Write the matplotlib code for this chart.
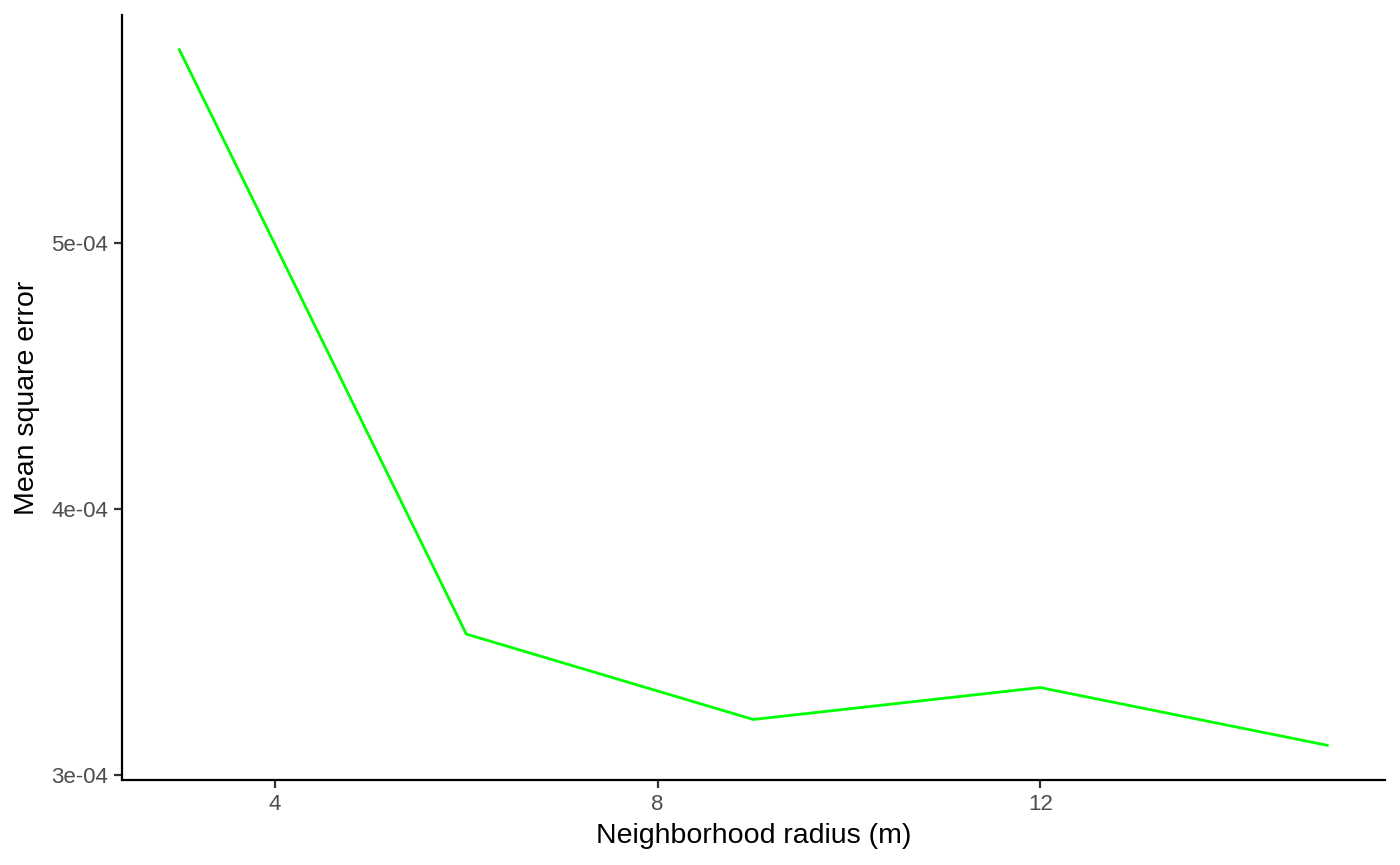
import numpy as np
import matplotlib.pyplot as plt

# =========================
# DATA
# =========================
radius = [3, 6, 9, 12, 15]
mse = [5.728e-4, 3.531e-4, 3.21e-4, 3.33e-4, 3.113e-4]

x_ticks = [4, 8, 12]
y_ticks = [3e-4, 4e-4, 5e-4]
y_tick_labels = ["3e-04", "4e-04", "5e-04"]

# =========================
# PLOT
# =========================
plt.rcParams['font.family'] = ['Liberation Sans', 'DejaVu Sans']

fig = plt.figure(figsize=(14, 8.65), dpi=100)
ax = fig.add_axes([0.0871, 0.0982, 0.9019, 0.8846])

ax.plot(radius, mse, color="#00FF00", linewidth=2.0)

# ggplot style expansion (5%)
xr = max(radius) - min(radius)
yr = max(mse) - min(mse)
ax.set_xlim(min(radius) - 0.05 * xr, max(radius) + 0.05 * xr)
ax.set_ylim(min(mse) - 0.05 * yr, max(mse) + 0.05 * yr)

ax.set_xticks(x_ticks)
ax.set_yticks(y_ticks)
ax.set_yticklabels(y_tick_labels)

ax.spines['top'].set_visible(False)
ax.spines['right'].set_visible(False)
for s in ['left', 'bottom']:
    ax.spines[s].set_linewidth(1.6)
    ax.spines[s].set_color("black")

ax.tick_params(axis='both', colors="#333333", labelcolor="#4D4D4D",
               labelsize=16, length=6, width=1.6, pad=4)

ax.set_xlabel("Neighborhood radius (m)", fontsize=20.5, labelpad=6)
ax.set_ylabel("Mean square error", fontsize=20.5, labelpad=8)

fig.savefig("out.png", dpi=100)
